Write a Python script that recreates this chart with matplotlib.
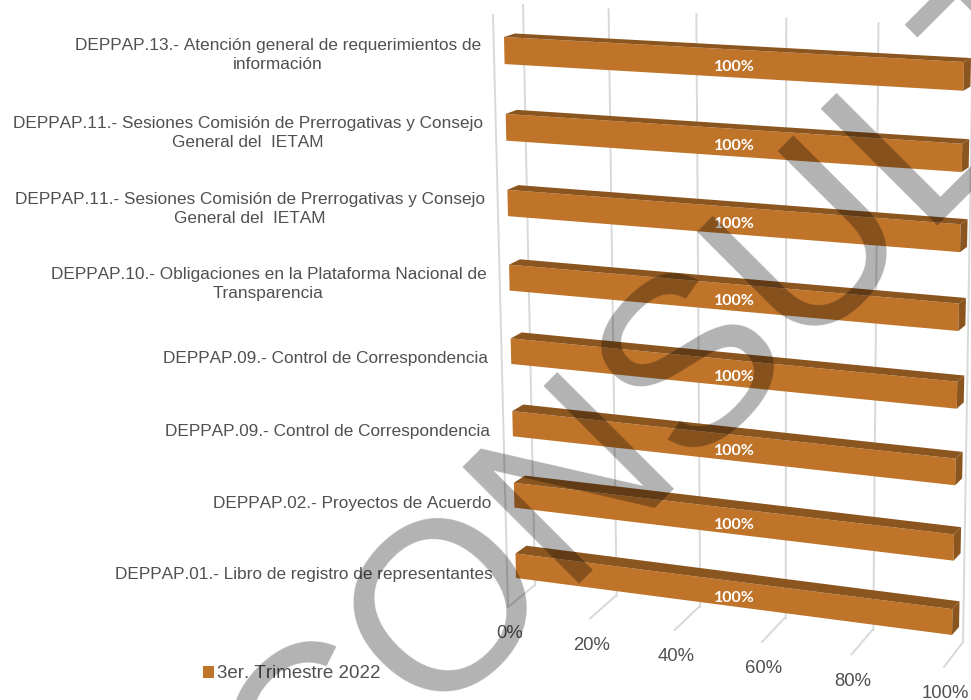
import numpy as np
import matplotlib
matplotlib.use("Agg")
import matplotlib.pyplot as plt
from matplotlib.patches import Polygon, Patch
from matplotlib.transforms import Transform

plt.rcParams["text.kerning_factor"] = 6

# ---- data (bottom row first) ----
categories = [
    "DEPPAP.01.- Libro de registro de representantes",
    "DEPPAP.02.- Proyectos de Acuerdo",
    "DEPPAP.09.- Control de Correspondencia",
    "DEPPAP.09.- Control de Correspondencia",
    "DEPPAP.10.- Obligaciones en la Plataforma Nacional de\nTransparencia",
    "DEPPAP.11.- Sesiones Comisión de Prerrogativas y Consejo\nGeneral del  IETAM",
    "DEPPAP.11.- Sesiones Comisión de Prerrogativas y Consejo\nGeneral del  IETAM",
    "DEPPAP.13.- Atención general de requerimientos de\ninformación",
]
values = [100, 100, 100, 100, 100, 100, 100, 100]
axis_ticks = [0, 20, 40, 60, 80, 100]
series_name = "3er. Trimestre 2022"
watermark = "CONSULTA"

BAR = "#C0742A"
DARK = "#8B551F"
GRID = "#D9D9D9"
TXT = "#505050"
PX = 0.72  # px -> pt at dpi 100


class Plane(Transform):
    """Perspective plane: (value 0-100, u 0-umax) -> pixel position."""
    input_dims = output_dims = 2
    is_affine = False

    def __init__(self, umax, p00, p10, p01, p11):
        super().__init__()
        src = [(0, 0), (100, 0), (0, umax), (100, umax)]
        dst = [p00, p10, p01, p11]
        A, b = [], []
        for (x, y), (X, Y) in zip(src, dst):
            A.append([x, y, 1, 0, 0, 0, -x * X, -y * X]); b.append(X)
            A.append([0, 0, 0, x, y, 1, -x * Y, -y * Y]); b.append(Y)
        self.H = np.append(np.linalg.solve(np.array(A, float), np.array(b, float)), 1).reshape(3, 3)

    def transform_non_affine(self, values):
        v = np.asarray(values, float)
        q = np.c_[v, np.ones(len(v))] @ self.H.T
        return q[:, :2] / q[:, 2:]


fig = plt.figure(figsize=(9.71, 7.0), dpi=100, facecolor="white")
ax = fig.add_axes([0, 0, 1, 1])
ax.set_xlim(0, 971)
ax.set_ylim(700, 0)
ax.set_autoscale_on(False)
ax.axis("off")

BAR_H = 0.35
TOP_U = len(values) - 1 + BAR_H
front = Plane(TOP_U, (516, 578), (952, 635), (504, 37), (964, 62))
back = Plane(TOP_U, (527, 570), (959, 627), (515, 33.5), (971, 58))
wall = Plane(1, (535, 585), (963, 642), (523, 5), (973, 28))
floor = Plane(1, (508, 607), (944, 667), (535, 585), (963, 642))
side = Plane(1, (508, 607), (944, 667), (493, 15), (955, 45))

T = lambda plane: plane + ax.transData

# gridlines
for t in axis_ticks:
    ax.plot([t, t], [0, 1], color=GRID, lw=1.4, transform=T(wall), zorder=1, clip_on=True)
    ax.plot([t, t], [0, 1], color=GRID, lw=1.4, transform=T(floor), zorder=1)
    ax.annotate(f"{t}%", (t, 0), xycoords=T(floor), xytext=(1.5 * PX, -27 * PX),
                textcoords="offset points", ha="center", va="center",
                fontsize=18.5 * PX, color=TXT, family="Liberation Sans", zorder=2)
ax.plot([axis_ticks[0]] * 2, [0, 1], color=GRID, lw=1.4, transform=T(side), zorder=1)

# bars
for i, (val, name) in enumerate(zip(values, categories)):
    lo, hi = i, i + BAR_H
    ax.add_patch(Polygon([(0, lo), (val, lo), (val, hi), (0, hi)], closed=True,
                         fc=BAR, ec="none", transform=T(front), zorder=3))
    f = T(front).transform([(0, hi), (val, hi), (val, lo)])
    b = T(back).transform([(0, hi), (val, hi), (val, lo)])
    inv = ax.transData.inverted()
    f, b = inv.transform(f), inv.transform(b)
    ax.add_patch(Polygon([f[0], f[1], b[1], b[0]], closed=True, fc=DARK, ec="none", zorder=3))
    ax.add_patch(Polygon([f[1], f[2], b[2], b[1]], closed=True, fc=DARK, ec="none", zorder=3))
    ax.annotate(f"{val}%", (val * 0.517, i + BAR_H / 2), xycoords=T(front),
                xytext=(0, -3.5 * PX), textcoords="offset points", ha="center", va="center",
                color="white", fontsize=16 * PX, fontweight="bold", family="Lato", zorder=4)
    ax.annotate(name, (0, i + BAR_H / 2), xycoords=T(front),
                xytext=(-23 * PX, (-9 + 0.6 * i) * PX), textcoords="offset points",
                ha="right", va="center", multialignment="center", linespacing=1.33,
                fontsize=17.3 * PX, color=TXT, family="Liberation Sans", zorder=2)

# legend
ax.legend(handles=[Patch(fc=BAR, ec="none", label=series_name)], loc="center left",
          bbox_to_anchor=(190, 674), bbox_transform=ax.transData, frameon=False,
          handlelength=0.55, handleheight=0.55, handletextpad=0.2, borderpad=0.2,
          prop={"family": "Liberation Sans", "size": 18.8 * PX}, labelcolor=TXT)

# watermark
ax.text(308, 842.5, watermark, rotation=45, rotation_mode="anchor", ha="left", va="baseline",
        fontsize=240 * PX, family="Liberation Sans", color="black", alpha=0.3, zorder=10, clip_on=True)

fig.savefig("out.png", dpi=100)
